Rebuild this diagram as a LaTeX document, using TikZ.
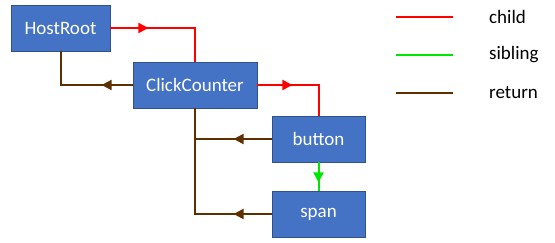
\documentclass[tikz,border=0pt]{standalone}
\usepackage{fontspec}
\setmainfont{Carlito}
\usetikzlibrary{arrows.meta,decorations.markings}
\definecolor{boxfill}{HTML}{4472C4}
\definecolor{boxline}{HTML}{2F528F}
\definecolor{childc}{HTML}{FF0000}
\definecolor{sibc}{HTML}{00E600}
\definecolor{retc}{HTML}{5E2F00}
\tikzset{
  fiber/.style={draw=boxline, line width=0.8pt, fill=boxfill, text=white,
    font=\fontsize{19}{22}\selectfont, inner sep=0pt, minimum height=46pt},
  conn/.style={line width=2pt},
  childline/.style={conn, draw=childc},
  sibline/.style={conn, draw=sibc},
  retline/.style={conn, draw=retc},
  tipat/.style={postaction={decorate}, decoration={markings,
    mark=at position #1 with {\arrow{Triangle[length=10pt,width=10pt]}}}},
  legtext/.style={font=\fontsize{19}{22}\selectfont, anchor=west, inner sep=0pt}
}
\begin{document}
\begin{tikzpicture}[x=1pt,y=-1pt]
\useasboundingbox (0,0) rectangle (555,242);
\node[fiber, minimum width=99pt] (hr) at (60.5,28) {HostRoot};
\node[fiber, minimum width=124pt] (cc) at (195,85) {ClickCounter};
\node[fiber, minimum width=93pt] (bt) at (318.5,139) {button};
\node[fiber, minimum width=93pt] (sp) at (318.5,214) {span};
% child
\draw[childline, tipat=38pt, childc] (hr.east) -| (cc.north);
\draw[childline, tipat=35pt, childc] (cc.east) -| (bt.north);
% sibling
\draw[sibline, tipat=20pt, sibc] (bt.south) -- (sp.north);
% return
\draw[retline, tipat=31pt, retc] (cc.west) -| (hr.south);
\draw[retline, tipat=38pt, retc] (bt.west) -| (cc.south);
\draw[retline, tipat=38pt, retc] (sp.west) -| (cc.south);
% legend
\coordinate (l1a) at (396,17); \coordinate (l1b) at (453,17);
\coordinate (l2a) at (396,55); \coordinate (l2b) at (453,55);
\coordinate (l3a) at (396,93); \coordinate (l3b) at (453,93);
\draw[childline] (l1a) -- (l1b);
\draw[sibline] (l2a) -- (l2b);
\draw[retline] (l3a) -- (l3b);
\node[legtext] (t1) at (489,17) {child};
\node[legtext] (t2) at (489,55) {sibling};
\node[legtext] (t3) at (489,93) {return};
\end{tikzpicture}
\end{document}
